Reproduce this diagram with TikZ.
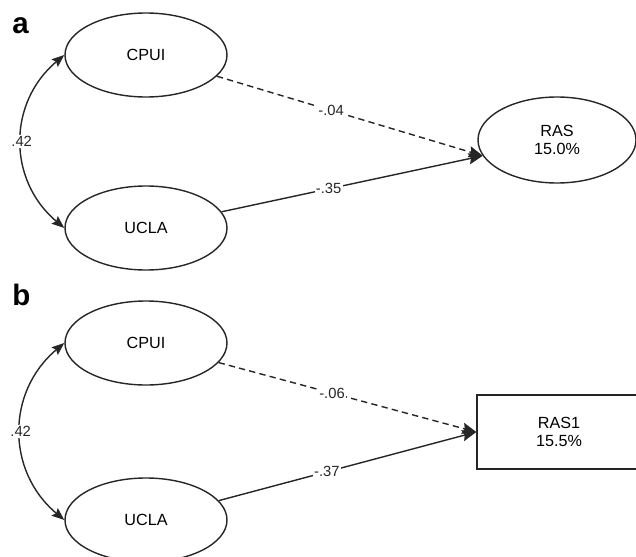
\documentclass[tikz,border=0pt]{standalone}
\usepackage{fontspec}
\setmainfont{Liberation Sans}
\usetikzlibrary{
  arrows.meta,
  positioning,
  shapes.geometric
}
\definecolor{lncol}{HTML}{262626}

\begin{document}
\begin{tikzpicture}[
  latent/.style={draw=lncol, ellipse, line width=1pt, inner sep=0pt,
                 minimum width=4.05cm, minimum height=2.1cm,
                 font=\fontsize{11.5}{13}\selectfont, align=center},
  observed/.style={draw=lncol, rectangle, line width=1pt, inner sep=0pt,
                 minimum width=4.1cm, minimum height=1.85cm,
                 font=\fontsize{11.5}{13}\selectfont, align=center},
  arr/.style={-{Stealth[length=10pt, width=8pt, inset=1.5pt]}, line width=1pt, lncol},
  darr/.style={arr, dash pattern=on 4.5pt off 3pt},
  corr/.style={{Stealth[length=9pt, width=7pt, inset=1.5pt]}-{Stealth[length=9pt, width=7pt, inset=1.5pt]},
               line width=1pt, lncol},
  coef/.style={fill=white, inner sep=1pt, font=\fontsize{10.5}{12}\selectfont},
  panel/.style={font=\fontsize{21}{24}\selectfont\bfseries, inner sep=0pt, anchor=base west},
]
  \useasboundingbox (0,0) rectangle (15.9,13.9);

  % Panel a: latent outcome
  \node[panel] (lbla) at (0.3, 13.05) {a};
  \node[latent] (cpuia) at (3.65, 12.525) {CPUI};
  \node[latent] (uclaa) at (3.65, 8.2) {UCLA};
  \node[latent, minimum width=3.95cm, minimum height=2.15cm] (ras) at (13.925, 10.4) {RAS\\15.0\%};
  \draw[corr] (cpuia.west) to[bend right=50, looseness=1.1] node[coef, midway] (ra) {.42} (uclaa.west);
  \draw[darr] (cpuia) -- (ras.192) node[coef, pos=0.43] (pa1) {-.04};
  \draw[arr] (uclaa) -- (ras.192) node[coef, pos=0.41] (pa2) {-.35};

  % Panel b: observed outcome
  \node[panel] (lblb) at (0.3, 6.275) {b};
  \node[latent] (cpuib) at (3.65, 5.325) {CPUI};
  \node[latent] (uclab) at (3.65, 0.9) {UCLA};
  \node[observed] (ras1) at (13.975, 3.1) {RAS1\\15.5\%};
  \draw[corr] (cpuib.west) to[bend right=50, looseness=1.1] node[coef, midway] (rb) {.42} (uclab.west);
  \draw[darr] (cpuib) -- (ras1.west) node[coef, pos=0.44] (pb1) {-.06};
  \draw[arr] (uclab) -- (ras1.west) node[coef, pos=0.42] (pb2) {-.37};
\end{tikzpicture}
\end{document}
